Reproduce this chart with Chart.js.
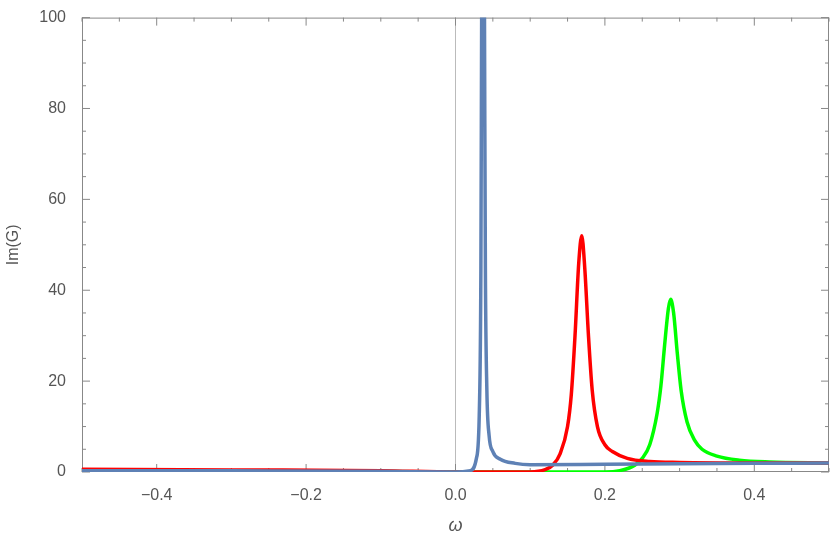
<!DOCTYPE html><html><head><script src="https://cdn.jsdelivr.net/npm/chart.js@4"></script>
<style>body{margin:0;background:#fff}#w{width:830px;height:547px}</style></head><body><div id="w"><canvas id="c"></canvas></div>
<script>
const xTicks=[-0.4,-0.2,0,0.2,0.4];
const yTicks=[0,20,40,60,80,100];
const blueX=[-0.5,-0.3,-0.1,0,0.02,0.028,0.032,0.034,0.035,0.036,0.037,0.038,0.039,0.04,0.042,0.045,0.05,0.06,0.08,0.1,0.2,0.3,0.4,0.5];
const blueY=[0.3,0.25,0.15,0,0.3,3,14,45,100,140,160,140,90,45,18,8,4.5,2.8,1.9,1.6,1.7,1.8,1.9,2.0];
const redX=[-0.5,-0.3,-0.1,0,0.1,0.12,0.13,0.14,0.15,0.155,0.16,0.165,0.169,0.173,0.178,0.183,0.19,0.2,0.21,0.23,0.26,0.3,0.4,0.5];
const redY=[0.6,0.45,0.3,0,0,0.5,1.5,4,10,17,30,46,52,45,30,18,10,6,4.5,3,2.3,2.1,2.0,2.0];
const greenX=[-0.5,-0.3,-0.1,0,0.2,0.22,0.24,0.25,0.26,0.27,0.275,0.28,0.285,0.288,0.292,0.297,0.302,0.31,0.32,0.33,0.35,0.38,0.42,0.5];
const greenY=[0.2,0.15,0.1,0,0,0.3,1.5,3,6,13,19,28,36,38,35,26,18,11,7,5,3.5,2.6,2.2,2.0];
const pts=(xs,ys)=>xs.map((x,i)=>({x,y:ys[i]}));
const ds=(xs,ys,c)=>({data:pts(xs,ys),borderColor:c,borderWidth:3.5,pointRadius:0,showLine:true,cubicInterpolationMode:'monotone',fill:false});
const deco={id:'z',beforeDatasetsDraw(ch){const {ctx,scales:{x,y},chartArea:a}=ch;const px=x.getPixelForValue(0);ctx.save();ctx.strokeStyle='#bbb';ctx.lineWidth=1;ctx.beginPath();ctx.moveTo(px,y.top);ctx.lineTo(px,y.bottom);ctx.stroke();
ctx.strokeStyle='#888';ctx.strokeRect(a.left+0.5,a.top+0.5,a.right-a.left-1,a.bottom-a.top-1);
ctx.beginPath();
for(let v=-0.5;v<=0.5001;v+=0.05){const p=x.getPixelForValue(v);const L=Math.abs(Math.round(v*100)%10)===0&&Math.abs(Math.round(v*100)%20)===0?8:4;ctx.moveTo(p,a.bottom);ctx.lineTo(p,a.bottom-L);ctx.moveTo(p,a.top);ctx.lineTo(p,a.top+L);}
for(let v=0;v<=100;v+=5){const p=y.getPixelForValue(v);const L=v%20===0?8:4;ctx.moveTo(a.left,p);ctx.lineTo(a.left+L,p);ctx.moveTo(a.right,p);ctx.lineTo(a.right-L,p);}
ctx.stroke();ctx.restore();}};
new Chart(document.getElementById('c'),{type:'scatter',data:{datasets:[ds(blueX,blueY,'#5e81b5'),ds(redX,redY,'#ff0000'),ds(greenX,greenY,'#00ff00')]},
options:{responsive:true,maintainAspectRatio:false,animation:false,layout:{padding:{top:14,right:1,left:0,bottom:6}},
plugins:{legend:{display:false},tooltip:{enabled:false}},
scales:{x:{type:'linear',min:-0.5,max:0.5,border:{display:false},grid:{display:false},
afterBuildTicks:s=>{s.ticks=xTicks.map(v=>({value:v}));},afterFit:s=>{s.height=69;},
ticks:{color:'#555',padding:6,font:{family:'Liberation Sans',size:16},callback:v=>(Math.abs(v)<1e-9?0:v).toFixed(1).replace('-','\u2212')},
title:{display:true,text:'ω',color:'#555',padding:{top:12},font:{family:'Liberation Sans',size:18,style:'italic'}}},
y:{min:0,max:100,border:{display:false},grid:{display:false},
afterBuildTicks:s=>{s.ticks=yTicks.map(v=>({value:v}));},afterFit:s=>{s.width=82;},
ticks:{color:'#555',padding:8,font:{family:'Liberation Sans',size:16}},
title:{display:true,text:'Im(G)',color:'#555',font:{family:'Liberation Sans',size:16}}}}},plugins:[deco]});
</script></body></html>
